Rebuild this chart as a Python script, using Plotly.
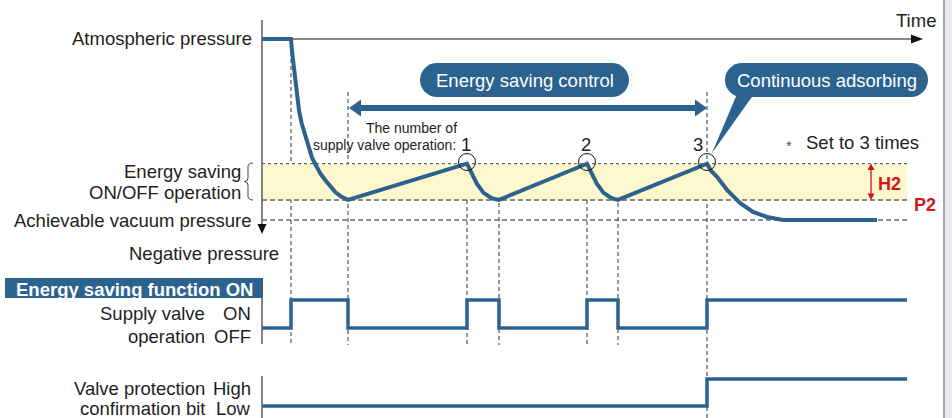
import plotly.graph_objects as go

# ---------------- data ----------------
# time (arbitrary units, 0 = start of vacuum chart), pressure (kPa gauge)
curve_t = [0, 29, 30, 31.3, 33, 34.7, 37, 39.7, 43, 46.3, 50, 54.7, 58.5, 63, 68, 73, 79, 86,
           205, 209.7, 214.7, 221.3, 229.7, 237,
           325, 329.7, 334.7, 341.3, 349.7, 356,
           445, 449, 455, 465, 478, 491, 505, 521, 615]
curve_p = [0, 0, -6, -12, -20.5, -28.7, -35.5, -42, -48, -53.6, -59, -63.5, -67, -70, -73.2, -76, -78.3, -80,
           -62, -66.8, -71.8, -76.4, -79.2, -80,
           -62, -66.8, -71.8, -76.4, -79.2, -80,
           -62, -65.5, -68.5, -75, -81.5, -86, -88.5, -90, -90]

atmospheric = 0
achievable = -90
p2 = -80
h2 = 18
t_end = 645

event_t = [29, 86, 205, 237, 325, 356, 445]
peak_t = [205, 325, 445]
peak_labels = ["1", "2", "3"]

valve_t = [0, 29, 86, 205, 237, 325, 356, 445, 645]
valve_v = [0, 1, 0, 1, 0, 1, 0, 1, 1]

bit_t = [0, 445, 645]
bit_v = [0, 1, 1]

# ---------------- style ----------------
W, H = 952, 418
BLUE = "#2c628e"
RED = "#d2141c"
TXT = "#1e1e1e"
FONT = "Liberation Sans, Arial, Helvetica, sans-serif"


def fx(x):
    return x / W


def fy(y):
    return 1 - y / H


def P(x, y):
    return f"{fx(x):.5f},{fy(y):.5f}"


fig = go.Figure()

fig.add_trace(go.Scatter(x=curve_t, y=curve_p, mode="lines",
                         line=dict(color=BLUE, width=4), hoverinfo="skip"))
fig.add_trace(go.Scatter(x=valve_t, y=valve_v, mode="lines", yaxis="y2",
                         line=dict(color=BLUE, width=3.5, shape="hv"), hoverinfo="skip"))
fig.add_trace(go.Scatter(x=bit_t, y=bit_v, mode="lines", yaxis="y3",
                         line=dict(color=BLUE, width=3.5, shape="hv"), hoverinfo="skip"))

shapes = []
ann = []

# yellow ON/OFF band
shapes.append(dict(type="rect", xref="x", yref="y", x0=0, x1=t_end, y0=p2, y1=p2 + h2,
                   fillcolor="#fdf8cd", line=dict(width=0), layer="below"))
# top dotted line
shapes.append(dict(type="line", xref="x", yref="y", x0=0, x1=t_end, y0=p2 + h2, y1=p2 + h2,
                   line=dict(color="#444", width=1, dash="dot"), layer="below"))
# P2 dashed
shapes.append(dict(type="line", xref="x", yref="y", x0=0, x1=t_end, y0=p2, y1=p2,
                   line=dict(color="#666", width=1.5, dash="5px,3px"), layer="below"))
# achievable dashed
shapes.append(dict(type="line", xref="x", yref="y", x0=0, x1=t_end, y0=achievable, y1=achievable,
                   line=dict(color="#222", width=1.2, dash="5px,3px"), layer="below"))

# vertical dashed event lines (pixel y ranges)
tops = [52, 92, 172, 203, 172, 203, 92]
bots = [345, 345, 345, 345, 345, 345, 418]
for t, y0, y1 in zip(event_t, tops, bots):
    shapes.append(dict(type="line", xref="x", yref="paper", x0=t, x1=t, y0=fy(y0), y1=fy(y1),
                       line=dict(color="#555", width=1.2, dash="4px,3px"), layer="below"))

# main vertical axes
shapes.append(dict(type="line", xref="x", yref="paper", x0=0, x1=0, y0=fy(20), y1=fy(226),
                   line=dict(color="#666", width=1.6)))
shapes.append(dict(type="path", xref="paper", yref="paper",
                   path=f"M{P(257.5,224)} L{P(266.5,224)} L{P(262,234)} Z",
                   fillcolor="#111", line=dict(width=0)))
shapes.append(dict(type="line", xref="x", yref="paper", x0=0, x1=0, y0=fy(298), y1=fy(344),
                   line=dict(color="#666", width=1.6)))
shapes.append(dict(type="line", xref="x", yref="paper", x0=0, x1=0, y0=fy(376), y1=fy(418),
                   line=dict(color="#666", width=1.6)))

# time axis arrow
shapes.append(dict(type="line", xref="x", yref="y", x0=0, x1=650, y0=atmospheric, y1=atmospheric,
                   line=dict(color="#111", width=1.2), layer="below"))
shapes.append(dict(type="path", xref="paper", yref="paper",
                   path=f"M{P(911,34.5)} L{P(911,43.5)} L{P(923,39)} Z",
                   fillcolor="#111", line=dict(width=0)))

# circles around the peaks
for t in peak_t:
    xp = 262 + t
    shapes.append(dict(type="circle", xref="paper", yref="paper",
                       x0=fx(xp - 8.5), x1=fx(xp + 8.5), y0=fy(153.5), y1=fy(170.5),
                       line=dict(color="#111", width=1)))

# energy saving control double arrow
shapes.append(dict(type="line", xref="paper", yref="paper", x0=fx(356), x1=fx(700), y0=fy(108), y1=fy(108),
                   line=dict(color=BLUE, width=6)))
shapes.append(dict(type="path", xref="paper", yref="paper",
                   path=f"M{P(349,108)} L{P(361,99.5)} L{P(361,116.5)} Z",
                   fillcolor=BLUE, line=dict(width=0)))
shapes.append(dict(type="path", xref="paper", yref="paper",
                   path=f"M{P(707,108)} L{P(695,99.5)} L{P(695,116.5)} Z",
                   fillcolor=BLUE, line=dict(width=0)))


def pill(x0, y0, x1, y1):
    r = (y1 - y0) / 2
    k = 0.5523 * r
    return (f"M{P(x0 + r, y0)} L{P(x1 - r, y0)} "
            f"C{P(x1 - r + k, y0)} {P(x1, y0 + r - k)} {P(x1, y0 + r)} "
            f"C{P(x1, y0 + r + k)} {P(x1 - r + k, y1)} {P(x1 - r, y1)} "
            f"L{P(x0 + r, y1)} "
            f"C{P(x0 + r - k, y1)} {P(x0, y0 + r + k)} {P(x0, y0 + r)} "
            f"C{P(x0, y0 + r - k)} {P(x0 + r - k, y0)} {P(x0 + r, y0)} Z")


shapes.append(dict(type="path", xref="paper", yref="paper", path=pill(420, 63, 629, 97),
                   fillcolor=BLUE, line=dict(width=0)))
shapes.append(dict(type="path", xref="paper", yref="paper", path=pill(725, 63, 928, 97),
                   fillcolor=BLUE, line=dict(width=0)))
shapes.append(dict(type="path", xref="paper", yref="paper",
                   path=f"M{P(737,94)} L{P(754,94)} L{P(712,153)} Z",
                   fillcolor=BLUE, line=dict(width=0)))

# brace
shapes.append(dict(type="path", xref="paper", yref="paper",
                   path=(f"M{P(253,163)} Q{P(248,163)} {P(248,167)} L{P(248,178)} "
                         f"Q{P(248,181.5)} {P(244.5,181.5)} Q{P(248,182)} {P(248,185)} "
                         f"L{P(248,196)} Q{P(248,200)} {P(253,200)}"),
                   line=dict(color="#444", width=1)))

# H2 arrow
shapes.append(dict(type="line", xref="paper", yref="paper", x0=fx(871), x1=fx(871), y0=fy(168), y1=fy(195),
                   line=dict(color=RED, width=1.3)))
shapes.append(dict(type="path", xref="paper", yref="paper",
                   path=f"M{P(871,163.5)} L{P(867.5,170)} L{P(874.5,170)} Z",
                   fillcolor=RED, line=dict(width=0)))
shapes.append(dict(type="path", xref="paper", yref="paper",
                   path=f"M{P(871,200)} L{P(867.5,193.5)} L{P(874.5,193.5)} Z",
                   fillcolor=RED, line=dict(width=0)))

# energy saving function ON box
shapes.append(dict(type="rect", xref="paper", yref="paper", x0=fx(5), x1=fx(263), y0=fy(278), y1=fy(298),
                   fillcolor=BLUE, line=dict(width=0), layer="below"))

# window border at right
shapes.append(dict(type="rect", xref="paper", yref="paper", x0=fx(944), x1=1, y0=0, y1=1,
                   fillcolor="#e7e9ed", line=dict(width=0)))
shapes.append(dict(type="line", xref="paper", yref="paper", x0=fx(944), x1=fx(944), y0=0, y1=1,
                   line=dict(color="#8c8c8c", width=1.5)))


def text(x, y, s, size=18.5, color=TXT, anchor="right", family=FONT):
    ann.append(dict(x=fx(x), y=fy(y), xref="paper", yref="paper", text=s, showarrow=False,
                    xanchor=anchor, yanchor="middle", font=dict(size=size, color=color, family=family)))


text(254, 39, "Atmospheric pressure")
text(938, 20, "Time")
text(243, 171, "Energy saving")
text(243, 192.5, "ON/OFF operation")
text(254, 220.5, "Achievable vacuum pressure")
text(281, 253.5, "Negative pressure")
text(525, 81, "Energy saving control", color="white", anchor="center")
text(827, 80.5, "Continuous adsorbing", color="white", anchor="center")
text(411, 127.5, "The number of", size=14, anchor="center")
text(458, 145, "supply valve operation:", size=14)
for t, lab in zip(peak_t, peak_labels):
    text(262 + t - 1 if lab != "3" else 262 + t - 9, 144, lab, size=18.5, anchor="center")
text(789, 145, "*", size=15, color="#555", anchor="center")
text(804, 142.5, "Set to 3 times", anchor="left")
text(876, 183.5, "<b>H2</b>", size=18, color=RED, anchor="left")
text(912, 205, "<b>P2</b>", size=18, color=RED, anchor="left")
text(134, 289.5, "<b>Energy saving function ON</b>", color="white", anchor="center")
text(207, 313.5, "Supply valve")
text(207, 336, "operation")
text(253, 313.5, "ON")
text(253, 336, "OFF")
text(207, 388.5, "Valve protection")
text(207, 408.5, "confirmation bit")
text(253, 388.5, "High")
text(253, 408.5, "Low")

fig.update_layout(
    width=W, height=H, margin=dict(l=0, r=0, t=0, b=0),
    paper_bgcolor="white", plot_bgcolor="white", showlegend=False,
    xaxis=dict(range=[-262, 690], visible=False, fixedrange=True),
    yaxis=dict(range=[-188.45, 19.39], visible=False, fixedrange=True),
    yaxis2=dict(range=[-3.214, 11.714], visible=False, overlaying="y", fixedrange=True),
    yaxis3=dict(range=[-0.444, 15.037], visible=False, overlaying="y", fixedrange=True),
    shapes=shapes, annotations=ann,
)

fig.write_html("out.html", config={"displayModeBar": False},
               post_script="document.body.style.margin='0px';document.body.style.overflow='hidden';")
